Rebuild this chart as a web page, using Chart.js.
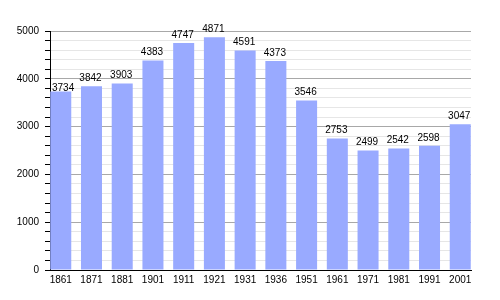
<!DOCTYPE html>
<html>
<head>
<meta charset="utf-8">
<script src="https://cdn.jsdelivr.net/npm/chart.js@4/dist/chart.umd.min.js"></script>
<style>
  html, body { margin: 0; padding: 0; background: #fff; }
  #wrap { width: 500px; height: 300px; }
</style>
</head>
<body>
<div id="wrap"><canvas id="popChart"></canvas></div>
<script>
(function () {
	"use strict";

	// population by census year
	var years = ["1861", "1871", "1881", "1901", "1911", "1921", "1931", "1936", "1951", "1961", "1971", "1981", "1991", "2001"];
	var population = [3734, 3842, 3903, 4383, 4747, 4871, 4591, 4373, 3546, 2753, 2499, 2542, 2598, 3047];
	var yTicks = [0, 1000, 2000, 3000, 4000, 5000];

	var barColor = "#99aaff";

	// value above each bar, kept inside the plot area
	var valueLabels = {
		id: "valueLabels",
		afterDatasetsDraw: function (chart) {
			var c = chart.ctx;
			var meta = chart.getDatasetMeta(0);
			var left = chart.chartArea.left;
			c.save();
			c.font = "10px 'Liberation Sans', Arial, sans-serif";
			c.fillStyle = "#000";
			c.textAlign = "center";
			c.textBaseline = "bottom";
			meta.data.forEach(function (bar, i) {
				var txt = String(population[i]);
				var w = c.measureText(txt).width;
				var x = Math.max(bar.x - 1, left + 2 + w / 2);
				var y = bar.y - 3;
				if (x !== bar.x - 1) y = bar.y + 2;
				c.fillText(txt, x, y);
			});
			c.restore();
		}
	};

	var ctx = document.getElementById("popChart");
	new Chart(ctx, {
		type: "bar",
		data: {
			datasets: [{
				data: population.map(function (v, i) { return { x: i, y: v }; }),
				backgroundColor: barColor,
				hoverBackgroundColor: barColor,
				borderWidth: 0,
				categoryPercentage: 1,
				barPercentage: 0.684
			}]
		},
		options: {
			responsive: true,
			maintainAspectRatio: false,
			animation: false,
			events: [],
			layout: { padding: { top: 31, right: 29, left: 0, bottom: 0 } },
			plugins: {
				legend: { display: false },
				tooltip: { enabled: false }
			},
			scales: {
				x: {
					type: "linear",
					offset: false,
					min: -0.35,
					max: years.length - 1 + 0.35,
					afterBuildTicks: function (scale) {
						scale.ticks = years.map(function (y, i) { return { value: i }; });
					},
					afterFit: function (scale) { scale.height = 30; },
					grid: { display: false, drawTicks: false },
					border: { color: "#000", width: 1 },
					ticks: {
						autoSkip: false,
						maxRotation: 0,
						padding: 4,
						color: "#000",
						font: { family: "'Liberation Sans', Arial, sans-serif", size: 10 },
						callback: function (v) { return years[v]; }
					}
				},
				y: {
					min: 0,
					max: 5000,
					afterFit: function (scale) { scale.width = 50; },
					ticks: {
						stepSize: 200,
						autoSkip: false,
						padding: 6,
						color: "#000",
						font: { family: "'Liberation Sans', Arial, sans-serif", size: 10 },
						callback: function (v) { return yTicks.indexOf(v) >= 0 ? String(v) : ""; }
					},
					grid: {
						tickLength: 5,
						tickColor: "#000",
						color: function (c) {
							if (c.tick && c.tick.value === 0) return "#000";
							return c.tick && c.tick.value % 1000 === 0 ? "#a8a8a8" : "#e6e6e6";
						}
					},
					border: { color: "#000", width: 1 }
				}
			}
		},
		plugins: [valueLabels]
	});
})();
</script>
</body>
</html>
